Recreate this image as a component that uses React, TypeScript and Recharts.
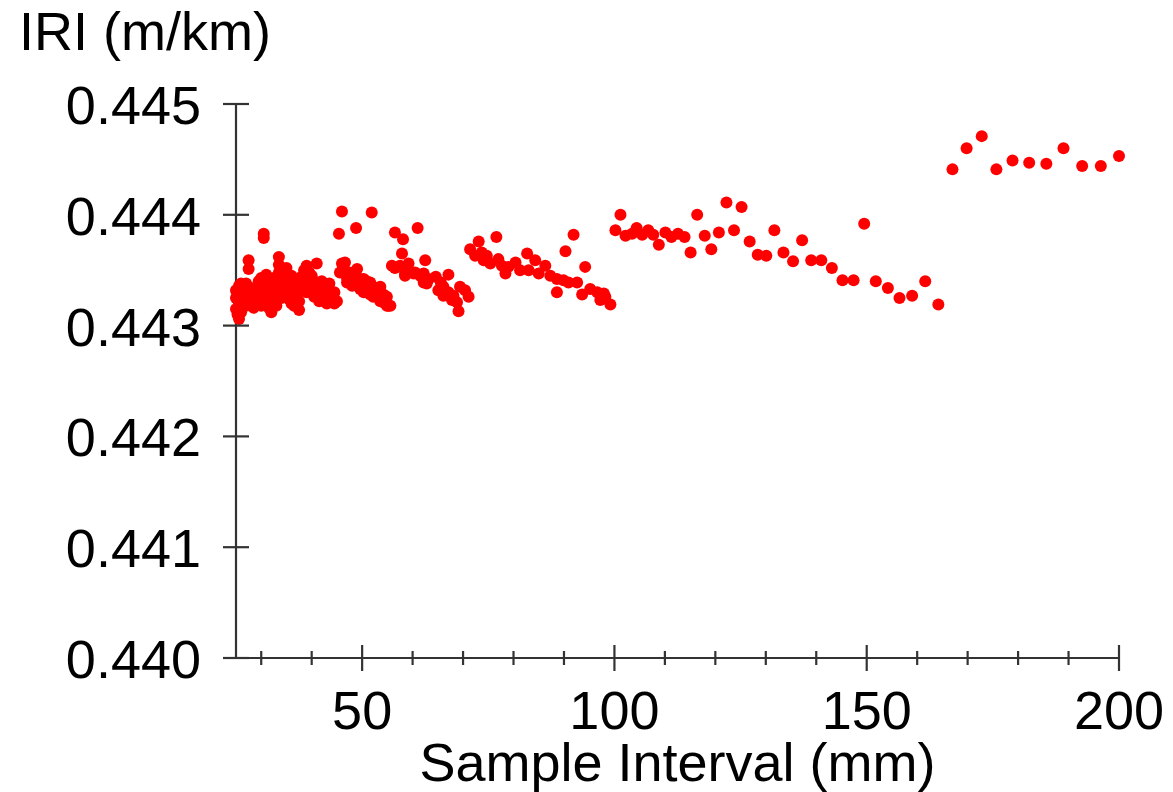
import { ScatterChart, Scatter, XAxis, YAxis } from 'recharts';

const FONT = '"Liberation Sans", Arial, sans-serif';
const AXIS = '#333333';
const DOT = '#ff0000';

// axis ticks
const xTicks = [30, 40, 50, 60, 70, 80, 90, 100, 110, 120, 130, 140, 150, 160, 170, 180, 190, 200];
const xMajor = [50, 100, 150, 200];
const yTicks = [0.44, 0.441, 0.442, 0.443, 0.444, 0.445];

// [sample interval (mm), IRI (m/km)], one array per saw-tooth run
const run25to45 = [
    [25.0, 0.44325], [25.0, 0.44315], [25.0, 0.44332], [25.3, 0.4431], [25.3, 0.44328],
    [25.6, 0.4432], [25.6, 0.44336], [25.6, 0.44306], [26.0, 0.44312], [26.0, 0.4433],
    [26.0, 0.44338], [26.5, 0.44322], [26.5, 0.44334], [27.0, 0.44326], [27.0, 0.44338],
    [27.0, 0.44318], [27.5, 0.44332], [27.5, 0.44359], [27.5, 0.44351], [28.0, 0.44322],
    [28.0, 0.44334], [28.5, 0.44316], [28.5, 0.44328], [29.0, 0.4432], [29.0, 0.44334],
    [29.5, 0.4434], [29.5, 0.44326], [30.0, 0.44343], [30.0, 0.4433], [30.0, 0.44318],
    [30.5, 0.44338], [30.5, 0.44325], [30.5, 0.44383], [30.5, 0.44379], [31.0, 0.44335],
    [31.0, 0.4432], [31.0, 0.44346], [31.5, 0.4433], [31.5, 0.44316], [32.0, 0.44326],
    [32.0, 0.4434], [32.0, 0.44312], [32.5, 0.44322], [32.5, 0.44334], [33.0, 0.44344],
    [33.0, 0.44318], [33.5, 0.44348], [33.5, 0.4433], [33.5, 0.44362], [33.5, 0.44355],
    [34.0, 0.4435], [34.0, 0.44338], [34.0, 0.44325], [34.5, 0.44346], [34.5, 0.44334],
    [35.0, 0.44342], [35.0, 0.4433], [35.0, 0.44352], [35.5, 0.44338], [35.5, 0.44324],
    [36.0, 0.44335], [36.0, 0.4432], [36.0, 0.44345], [36.5, 0.4433], [36.5, 0.44318],
    [37.0, 0.44326], [37.0, 0.4434], [37.5, 0.44322], [37.5, 0.44314], [38.0, 0.44344],
    [38.0, 0.44332], [38.5, 0.4435], [38.5, 0.44338], [39.0, 0.44354], [39.0, 0.44342],
    [39.0, 0.4433], [39.5, 0.44348], [39.5, 0.44336], [40.0, 0.44345], [40.0, 0.4433],
    [40.5, 0.4434], [40.5, 0.44326], [41.0, 0.44356], [41.0, 0.44336], [41.5, 0.44332],
    [41.5, 0.44322], [42.0, 0.4434], [42.0, 0.44328], [42.5, 0.44335], [42.5, 0.44324],
    [43.0, 0.4433], [43.0, 0.4432], [43.5, 0.44326], [43.5, 0.44338], [44.0, 0.44322],
    [44.5, 0.4432], [44.5, 0.4433], [45.0, 0.44322], [45.4, 0.44383],
];

const run45to56 = [
    [45.6, 0.44348], [46.0, 0.44403], [46.0, 0.44356], [46.3, 0.44352], [46.6, 0.44357],
    [47.0, 0.44343], [47.0, 0.44339], [47.5, 0.44348], [48.0, 0.44345], [48.0, 0.44336],
    [48.3, 0.44342], [48.8, 0.44388], [49.0, 0.44351], [49.0, 0.44338], [49.6, 0.44342],
    [49.6, 0.44333], [50.3, 0.44342], [50.3, 0.4433], [50.9, 0.4434], [50.9, 0.4433],
    [51.6, 0.44339], [51.6, 0.44328], [51.9, 0.44402], [52.2, 0.44335], [52.2, 0.44326],
    [52.6, 0.44327], [53.0, 0.44332], [53.6, 0.44335], [53.6, 0.44322], [54.2, 0.44321],
    [54.2, 0.44328], [54.9, 0.44326], [54.9, 0.44318], [55.2, 0.44318], [55.6, 0.44318],
];

const run56to71 = [
    [55.9, 0.44354], [56.5, 0.44384], [56.5, 0.44352], [57.5, 0.44354], [57.9, 0.44365],
    [58.1, 0.44378], [58.5, 0.44347], [58.5, 0.44345], [59.2, 0.44356], [59.2, 0.4435],
    [60.2, 0.44347], [60.5, 0.44348], [61.0, 0.44388], [61.5, 0.44345], [61.8, 0.44344],
    [62.2, 0.44347], [62.2, 0.44339], [62.5, 0.44359], [62.8, 0.44338], [63.2, 0.44342],
    [64.6, 0.44344], [65.1, 0.44332], [65.6, 0.44339], [66.1, 0.44335], [66.1, 0.44327],
    [67.1, 0.44346], [67.1, 0.4433], [67.8, 0.44323], [67.8, 0.44326], [68.1, 0.44327],
    [68.8, 0.44321], [69.1, 0.44313], [69.4, 0.44335], [70.4, 0.44332], [71.1, 0.44326],
];

const run71to99 = [
    [71.4, 0.44369], [72.4, 0.44363], [73.1, 0.44376], [73.7, 0.44366], [74.1, 0.44359],
    [74.7, 0.44363], [75.4, 0.44356], [76.6, 0.4438], [77.0, 0.4436], [77.7, 0.44354],
    [78.4, 0.44347], [79.0, 0.44353], [80.4, 0.44357], [81.3, 0.4435], [82.7, 0.44365],
    [83.0, 0.4435], [84.3, 0.44359], [85.0, 0.44347], [86.3, 0.44354], [87.3, 0.44345],
    [88.6, 0.44342], [88.6, 0.4433], [89.9, 0.44341], [90.3, 0.44367], [90.9, 0.44339],
    [91.9, 0.44382], [92.6, 0.44339], [93.6, 0.44328], [94.2, 0.44353], [95.2, 0.44333],
    [96.6, 0.4433], [97.2, 0.44323], [97.9, 0.44329], [98.2, 0.44326], [99.2, 0.44319],
];

const run100to164 = [
    [100.2, 0.44386], [101.2, 0.444], [102.2, 0.44381], [103.5, 0.44383], [104.4, 0.44388],
    [105.5, 0.44382], [106.7, 0.44386], [107.7, 0.44382], [108.8, 0.44373], [110.1, 0.44384],
    [111.3, 0.4438], [112.6, 0.44383], [113.9, 0.4438], [115.1, 0.44366], [116.4, 0.444],
    [117.9, 0.44381], [119.2, 0.44369], [120.7, 0.44384], [122.2, 0.44411], [123.7, 0.44386],
    [125.2, 0.44407], [126.8, 0.44376], [128.4, 0.44364], [130.1, 0.44363], [131.7, 0.44386],
    [133.5, 0.44366], [135.4, 0.44358], [137.2, 0.44377], [139.0, 0.44359], [141.0, 0.44359],
    [143.1, 0.44352], [145.2, 0.44341], [147.4, 0.44341], [149.5, 0.44392], [151.8, 0.4434],
    [154.2, 0.44334], [156.5, 0.44325], [159.0, 0.44327], [161.6, 0.4434], [164.2, 0.44319],
];

const run167to200 = [
    [167.0, 0.44441], [169.8, 0.4446], [172.8, 0.44471], [175.7, 0.44441], [178.9, 0.44449],
    [182.2, 0.44447], [185.6, 0.44446], [189.0, 0.4446], [192.7, 0.44444], [196.4, 0.44444],
    [200.0, 0.44453],
];

const points = [...run25to45, ...run45to56, ...run56to71, ...run71to99, ...run100to164, ...run167to200]
    .map(([x, y]) => ({ x, y }));

const XTick = ({ x, y, payload }: any) => {
    const major = xMajor.includes(payload.value);
    const h = major ? 13 : 7;
    return (
        <g>
            <line x1={x} x2={x} y1={y - h} y2={y + h} stroke={AXIS} strokeWidth={2.2} />
            {major && (
                <text x={x} y={y + 71} textAnchor="middle" fontSize={54} fontFamily={FONT} fill="#000">
                    {payload.value}
                </text>
            )}
        </g>
    );
};

const YTick = ({ x, y, payload }: any) => (
    <g>
        <line x1={x - 13} x2={x + 13} y1={y} y2={y} stroke={AXIS} strokeWidth={2.2} />
        <text x={x - 35} y={y + 20} textAnchor="end" fontSize={54} fontFamily={FONT} fill="#000">
            {Number(payload.value).toFixed(3)}
        </text>
    </g>
);

const Dot = (props: any) => <circle cx={props.cx} cy={props.cy} r={6} fill={DOT} />;

export default function App() {
    return (
        <ScatterChart
            width={1165}
            height={784}
            margin={{ top: 96, right: 54, bottom: 14, left: 28 }}
            style={{ fontFamily: FONT }}
        >
            <XAxis
                type="number"
                dataKey="x"
                domain={[25, 200]}
                ticks={xTicks}
                tick={<XTick />}
                tickLine={false}
                tickSize={0}
                tickMargin={0}
                height={120}
                axisLine={{ stroke: AXIS, strokeWidth: 2.2 }}
                interval={0}
                label={{
                    content: () => (
                        <text x={669.5} y={773} textAnchor="middle" fontSize={54} fontFamily={FONT} fill="#000">
                            Sample Interval (mm)
                        </text>
                    ),
                }}
            />
            <YAxis
                type="number"
                dataKey="y"
                domain={[0.44, 0.445]}
                ticks={yTicks}
                tick={<YTick />}
                tickLine={false}
                tickSize={0}
                tickMargin={0}
                width={200}
                axisLine={{ stroke: AXIS, strokeWidth: 2.2 }}
                interval={0}
                label={{
                    content: () => (
                        <text x={11} y={42} fontSize={54} fontFamily={FONT} fill="#000">
                            IRI (m/km)
                        </text>
                    ),
                }}
            />
            <Scatter data={points} shape={<Dot />} isAnimationActive={false} />
        </ScatterChart>
    );
}
